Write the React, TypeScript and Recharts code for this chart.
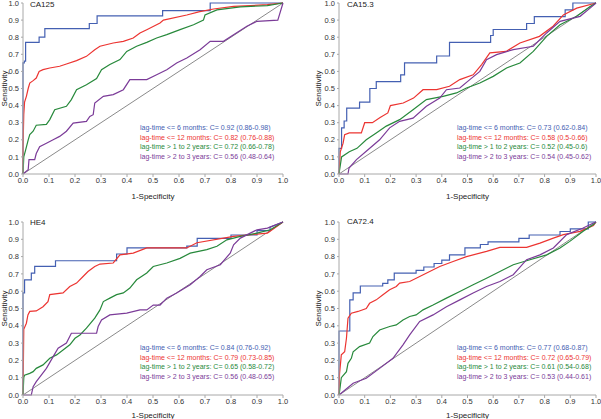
import React from 'react';
import { LineChart, Line, XAxis, YAxis, Legend, Label } from 'recharts';

type Pt = [number, number];

const FONT = '"Liberation Sans", Arial, sans-serif';
const TICKS = [0, 0.1, 0.2, 0.3, 0.4, 0.5, 0.6, 0.7, 0.8, 0.9, 1.0];
const COLORS = ['#4460b2', '#ec3431', '#27893b', '#7b3b98'];
const DIAGONAL: Pt[] = [[0, 0], [1, 1]];

const titles = ['CA125', 'CA15.3', 'HE4', 'CA72.4'];

const ca125Labels = [
  'lag-time <= 6 months: C= 0.92 (0.86-0.98)',
  'lag-time <= 12 months: C= 0.82 (0.76-0.88)',
  'lag-time > 1 to 2 years: C= 0.72 (0.66-0.78)',
  'lag-time > 2 to 3 years: C= 0.56 (0.48-0.64)',
];
const ca153Labels = [
  'lag-time <= 6 months: C= 0.73 (0.62-0.84)',
  'lag-time <= 12 months: C= 0.58 (0.5-0.66)',
  'lag-time > 1 to 2 years: C= 0.52 (0.45-0.6)',
  'lag-time > 2 to 3 years: C= 0.54 (0.45-0.62)',
];
const he4Labels = [
  'lag-time <= 6 months: C= 0.84 (0.76-0.92)',
  'lag-time <= 12 months: C= 0.79 (0.73-0.85)',
  'lag-time > 1 to 2 years: C= 0.65 (0.58-0.72)',
  'lag-time > 2 to 3 years: C= 0.56 (0.48-0.65)',
];
const ca724Labels = [
  'lag-time <= 6 months: C= 0.77 (0.68-0.87)',
  'lag-time <= 12 months: C= 0.72 (0.65-0.79)',
  'lag-time > 1 to 2 years: C= 0.61 (0.54-0.68)',
  'lag-time > 2 to 3 years: C= 0.53 (0.44-0.61)',
];

// ---- CA125 ----
const ca125Blue: Pt[] = [[0,0],[0,0.65],[0.005,0.65],[0.005,0.66],[0.01,0.66],[0.01,0.77],[0.062,0.77],[0.062,0.8],[0.084,0.8],[0.084,0.85],[0.255,0.85],[0.255,0.88],[0.285,0.88],[0.285,0.925],[0.537,0.925],[0.537,0.955],[0.72,0.955],[0.72,1],[1,1]];
const ca125Red: Pt[] = [[0,0],[0,0.15],[0.003,0.35],[0.006,0.42],[0.013,0.454],[0.02,0.5],[0.026,0.532],[0.039,0.546],[0.051,0.561],[0.062,0.6],[0.077,0.61],[0.103,0.62],[0.141,0.63],[0.167,0.643],[0.206,0.663],[0.244,0.688],[0.276,0.727],[0.296,0.747],[0.347,0.766],[0.386,0.776],[0.424,0.795],[0.45,0.825],[0.476,0.844],[0.527,0.883],[0.54,0.9],[0.63,0.93],[0.68,0.95],[0.733,0.965],[0.81,0.98],[0.94,0.99],[1,1]];
const ca125Green: Pt[] = [[0,0],[0.003,0.1],[0.01,0.14],[0.02,0.2],[0.026,0.23],[0.039,0.25],[0.051,0.285],[0.09,0.29],[0.103,0.318],[0.122,0.376],[0.167,0.396],[0.186,0.435],[0.206,0.493],[0.244,0.522],[0.283,0.558],[0.302,0.61],[0.334,0.64],[0.373,0.669],[0.399,0.717],[0.437,0.747],[0.476,0.77],[0.514,0.795],[0.553,0.815],[0.604,0.844],[0.656,0.873],[0.694,0.9],[0.7,0.93],[0.746,0.96],[0.836,0.977],[0.94,0.985],[1,1]];
const ca125Purple: Pt[] = [[0,0],[0.02,0.025],[0.023,0.084],[0.045,0.084],[0.051,0.12],[0.064,0.16],[0.09,0.18],[0.116,0.2],[0.141,0.22],[0.167,0.25],[0.193,0.298],[0.244,0.308],[0.257,0.337],[0.27,0.347],[0.276,0.415],[0.309,0.454],[0.347,0.464],[0.386,0.493],[0.411,0.552],[0.476,0.552],[0.514,0.58],[0.553,0.61],[0.591,0.649],[0.63,0.678],[0.681,0.727],[0.72,0.776],[0.771,0.776],[0.81,0.815],[0.861,0.864],[0.9,0.893],[0.98,0.9],[1,1]];

// ---- CA15.3 ----
const ca153Blue: Pt[] = [[0,0],[0,0.15],[0.01,0.15],[0.01,0.27],[0.02,0.27],[0.02,0.31],[0.03,0.31],[0.03,0.385],[0.08,0.385],[0.08,0.42],[0.12,0.42],[0.12,0.5],[0.145,0.5],[0.145,0.54],[0.24,0.54],[0.24,0.58],[0.255,0.58],[0.255,0.65],[0.38,0.65],[0.38,0.69],[0.43,0.69],[0.43,0.77],[0.59,0.77],[0.59,0.81],[0.6,0.81],[0.6,0.845],[0.73,0.845],[0.73,0.88],[0.76,0.88],[0.76,0.92],[0.88,0.92],[0.88,0.96],[0.91,0.96],[0.91,1],[1,1]];
const ca153Red: Pt[] = [[0,0],[0.005,0.13],[0.016,0.18],[0.022,0.23],[0.04,0.24],[0.087,0.24],[0.1,0.3],[0.13,0.3],[0.16,0.33],[0.19,0.357],[0.2,0.4],[0.25,0.415],[0.29,0.444],[0.327,0.493],[0.38,0.493],[0.43,0.513],[0.47,0.552],[0.522,0.58],[0.555,0.64],[0.587,0.708],[0.65,0.717],[0.704,0.766],[0.78,0.805],[0.833,0.864],[0.873,0.93],[0.925,0.97],[1,1]];
const ca153Green: Pt[] = [[0,0],[0.01,0.1],[0.04,0.13],[0.07,0.15],[0.106,0.2],[0.145,0.24],[0.184,0.28],[0.236,0.318],[0.288,0.376],[0.34,0.435],[0.405,0.454],[0.457,0.474],[0.496,0.503],[0.548,0.532],[0.6,0.571],[0.652,0.62],[0.704,0.649],[0.756,0.717],[0.808,0.805],[0.86,0.873],[0.925,0.922],[0.977,0.98],[1,1]];
const ca153Purple: Pt[] = [[0,0],[0.035,0],[0.039,0.035],[0.068,0.084],[0.106,0.133],[0.158,0.2],[0.197,0.27],[0.236,0.308],[0.288,0.327],[0.34,0.396],[0.392,0.444],[0.418,0.493],[0.47,0.503],[0.509,0.552],[0.548,0.6],[0.574,0.669],[0.613,0.698],[0.678,0.727],[0.756,0.747],[0.808,0.825],[0.86,0.893],[0.938,0.922],[0.977,0.97],[1,1]];

// ---- HE4 ----
const he4Blue: Pt[] = [[0,0],[0,0.59],[0.006,0.59],[0.006,0.666],[0.032,0.666],[0.032,0.705],[0.045,0.705],[0.045,0.743],[0.125,0.743],[0.125,0.776],[0.36,0.776],[0.36,0.815],[0.4,0.815],[0.4,0.85],[0.63,0.85],[0.63,0.86],[0.67,0.86],[0.67,0.905],[0.8,0.905],[0.8,0.925],[0.9,0.925],[0.9,0.95],[0.95,0.95],[0.95,0.97],[1,1]];
const he4Red: Pt[] = [[0,0],[0.003,0.38],[0.013,0.415],[0.019,0.463],[0.026,0.483],[0.051,0.486],[0.077,0.51],[0.096,0.54],[0.103,0.58],[0.154,0.59],[0.18,0.627],[0.206,0.647],[0.231,0.685],[0.25,0.714],[0.276,0.743],[0.296,0.757],[0.347,0.763],[0.373,0.81],[0.424,0.82],[0.476,0.85],[0.63,0.85],[0.669,0.88],[0.81,0.917],[0.94,0.936],[1,1]];
const he4Green: Pt[] = [[0,0],[0.003,0.1],[0.006,0.115],[0.026,0.125],[0.039,0.135],[0.051,0.154],[0.077,0.174],[0.103,0.212],[0.129,0.232],[0.154,0.26],[0.18,0.29],[0.2,0.328],[0.219,0.347],[0.244,0.386],[0.276,0.444],[0.296,0.492],[0.309,0.54],[0.334,0.56],[0.36,0.58],[0.386,0.59],[0.411,0.618],[0.437,0.666],[0.476,0.705],[0.501,0.743],[0.553,0.763],[0.604,0.79],[0.643,0.82],[0.707,0.84],[0.746,0.86],[0.784,0.897],[0.836,0.917],[0.9,0.936],[0.951,0.955],[1,1]];
const he4Purple: Pt[] = [[0,0],[0.032,0],[0.039,0.048],[0.051,0.077],[0.071,0.116],[0.09,0.154],[0.116,0.222],[0.135,0.27],[0.167,0.3],[0.186,0.357],[0.283,0.357],[0.289,0.396],[0.302,0.434],[0.334,0.463],[0.399,0.473],[0.45,0.492],[0.476,0.492],[0.501,0.52],[0.527,0.52],[0.553,0.56],[0.591,0.59],[0.643,0.637],[0.681,0.685],[0.707,0.724],[0.759,0.753],[0.797,0.82],[0.81,0.868],[0.836,0.907],[0.9,0.955],[0.94,0.965],[1,1]];

// ---- CA72.4 ----
const ca724Blue: Pt[] = [[0,0],[0,0.37],[0.042,0.37],[0.042,0.55],[0.055,0.55],[0.055,0.59],[0.083,0.59],[0.083,0.63],[0.17,0.63],[0.17,0.645],[0.19,0.645],[0.19,0.665],[0.215,0.665],[0.215,0.705],[0.3,0.705],[0.3,0.72],[0.33,0.72],[0.33,0.74],[0.37,0.74],[0.37,0.76],[0.4,0.76],[0.4,0.78],[0.43,0.78],[0.43,0.81],[0.49,0.81],[0.49,0.85],[0.55,0.85],[0.55,0.87],[0.58,0.87],[0.58,0.885],[0.7,0.885],[0.7,0.905],[0.74,0.905],[0.74,0.925],[0.86,0.925],[0.86,0.945],[0.9,0.945],[0.9,0.96],[0.97,0.96],[0.97,1],[1,1]];
const ca724Red: Pt[] = [[0,0],[0.002,0.12],[0.009,0.232],[0.022,0.25],[0.029,0.328],[0.035,0.444],[0.048,0.473],[0.074,0.483],[0.106,0.5],[0.119,0.53],[0.145,0.55],[0.171,0.58],[0.197,0.608],[0.223,0.627],[0.236,0.647],[0.275,0.656],[0.314,0.685],[0.353,0.714],[0.392,0.743],[0.444,0.772],[0.496,0.8],[0.574,0.83],[0.626,0.853],[0.73,0.853],[0.782,0.878],[0.834,0.907],[0.873,0.927],[0.938,0.946],[0.99,0.98],[1,1]];
const ca724Green: Pt[] = [[0,0],[0.003,0.03],[0.009,0.1],[0.029,0.135],[0.035,0.183],[0.048,0.212],[0.055,0.25],[0.08,0.28],[0.119,0.3],[0.132,0.338],[0.158,0.376],[0.197,0.396],[0.223,0.405],[0.249,0.434],[0.275,0.454],[0.3,0.463],[0.327,0.492],[0.366,0.52],[0.418,0.56],[0.47,0.598],[0.522,0.637],[0.574,0.675],[0.626,0.714],[0.678,0.753],[0.743,0.782],[0.808,0.81],[0.86,0.85],[0.898,0.888],[0.95,0.946],[0.99,0.985],[1,1]];
const ca724Purple: Pt[] = [[0,0],[0.055,0.068],[0.106,0.097],[0.158,0.154],[0.21,0.212],[0.249,0.29],[0.275,0.347],[0.314,0.425],[0.366,0.463],[0.418,0.51],[0.47,0.55],[0.522,0.59],[0.574,0.627],[0.626,0.656],[0.678,0.695],[0.73,0.782],[0.782,0.81],[0.834,0.85],[0.886,0.927],[0.95,0.965],[0.99,0.994],[1,1]];

const toRows = (pts: Pt[]) => pts.map(([x, y]) => ({ x, y }));
const fmt = (v: number) => v.toFixed(1);

type PanelProps = {
  title: string;
  curves: Pt[][];
  labels: string[];
  left: number;
  top: number;
  width: number;
  height: number;
  margin: { top: number; right: number; bottom: number; left: number };
  yAxisWidth: number;
  xAxisHeight: number;
  yLabelOffset: number;
  xLabelOffset: number;
  legendLeft: number;
  legendTop: number;
  titleLeft: number;
  titleTop: number;
};

function Panel(p: PanelProps) {
  const tick = { fontSize: 7.5, fill: '#333', fontFamily: FONT };
  const legendContent = () => (
    <div style={{ fontFamily: FONT, fontSize: 7, lineHeight: '9.6px', textAlign: 'left' }}>
      {p.labels.map((l, i) => (
        <div key={l} style={{ color: COLORS[i], whiteSpace: 'nowrap' }}>{l}</div>
      ))}
    </div>
  );
  return (
    <div style={{ position: 'absolute', left: p.left, top: p.top, width: p.width, height: p.height }}>
      <LineChart width={p.width} height={p.height} margin={p.margin}>
        <XAxis
          type="number"
          dataKey="x"
          domain={[0, 1]}
          ticks={TICKS}
          tickFormatter={fmt}
          tick={tick}
          tickSize={3}
          tickMargin={1}
          height={p.xAxisHeight}
          stroke="#a8a8a8"
          interval={0}
          allowDuplicatedCategory={false}
        >
          <Label value="1-Specificity" position="insideBottom" offset={p.xLabelOffset}
            style={{ fontSize: 8, fill: '#222', fontFamily: FONT }} />
        </XAxis>
        <YAxis
          type="number"
          dataKey="y"
          domain={[0, 1]}
          ticks={TICKS}
          tickFormatter={fmt}
          tick={tick}
          tickSize={2}
          tickMargin={2}
          width={p.yAxisWidth}
          stroke="#a8a8a8"
          interval={0}
        >
          <Label value="Sensitivity" angle={-90} position="insideLeft" offset={p.yLabelOffset}
            style={{ fontSize: 8, fill: '#222', fontFamily: FONT, textAnchor: 'middle' }} />
        </YAxis>
        <Legend
          layout="vertical"
          align="center"
          verticalAlign="middle"
          content={legendContent}
          wrapperStyle={{ left: p.legendLeft, top: p.legendTop, width: 'auto', height: 'auto', margin: 0 }}
        />
        <Line data={toRows(DIAGONAL)} dataKey="y" stroke="#8a8a8a" strokeWidth={1}
          dot={false} isAnimationActive={false} legendType="none" type="linear" />
        {p.curves.map((c, i) => (
          <Line key={i} data={toRows(c)} dataKey="y" name={p.labels[i]} stroke={COLORS[i]}
            strokeWidth={1.2} dot={false} isAnimationActive={false} type="linear" />
        ))}
      </LineChart>
      <div style={{ position: 'absolute', left: p.titleLeft, top: p.titleTop, fontFamily: FONT,
        fontSize: 8, color: '#222', lineHeight: '9px', whiteSpace: 'nowrap' }}>{p.title}</div>
    </div>
  );
}

export default function App() {
  return (
    <div style={{ position: 'absolute', left: 0, top: 0, width: 601, height: 419, background: '#fff', overflow: 'hidden' }}>
      <Panel title={titles[0]} curves={[ca125Blue, ca125Red, ca125Green, ca125Purple]} labels={ca125Labels}
        left={0} top={0} width={300} height={205}
        margin={{ top: 3, right: 17, bottom: 0, left: 0 }} yAxisWidth={23} xAxisHeight={31}
        yLabelOffset={4} xLabelOffset={6} legendLeft={140} legendTop={123} titleLeft={30} titleTop={0} />
      <Panel title={titles[1]} curves={[ca153Blue, ca153Red, ca153Green, ca153Purple]} labels={ca153Labels}
        left={300} top={0} width={301} height={205}
        margin={{ top: 3, right: 5, bottom: 0, left: 0 }} yAxisWidth={39} xAxisHeight={31}
        yLabelOffset={18} xLabelOffset={6} legendLeft={157} legendTop={123} titleLeft={47} titleTop={0} />
      <Panel title={titles[2]} curves={[he4Blue, he4Red, he4Green, he4Purple]} labels={he4Labels}
        left={0} top={205} width={300} height={214}
        margin={{ top: 17, right: 17, bottom: 0, left: 0 }} yAxisWidth={23} xAxisHeight={24}
        yLabelOffset={4} xLabelOffset={1} legendLeft={140} legendTop={138} titleLeft={30} titleTop={13} />
      <Panel title={titles[3]} curves={[ca724Blue, ca724Red, ca724Green, ca724Purple]} labels={ca724Labels}
        left={300} top={205} width={301} height={214}
        margin={{ top: 17, right: 5, bottom: 0, left: 0 }} yAxisWidth={39} xAxisHeight={24}
        yLabelOffset={18} xLabelOffset={1} legendLeft={157} legendTop={138} titleLeft={47} titleTop={12} />
    </div>
  );
}
